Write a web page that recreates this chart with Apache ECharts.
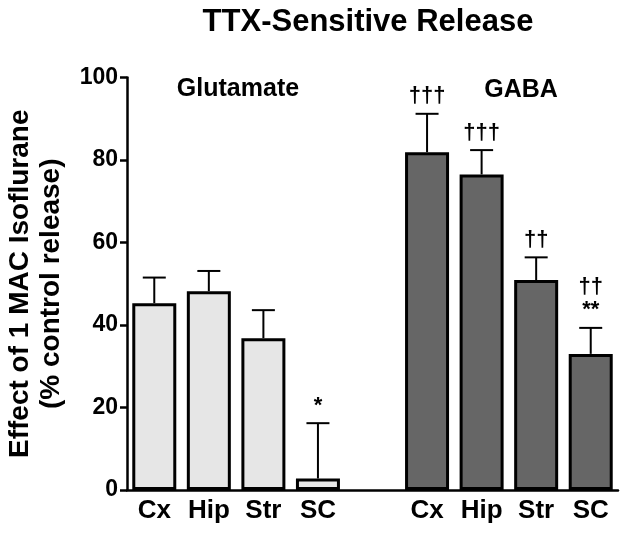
<!DOCTYPE html>
<html>
<head>
<meta charset="utf-8">
<script src="https://cdn.jsdelivr.net/npm/echarts@6/dist/echarts.min.js"></script>
<style>
  html, body { margin: 0; padding: 0; background: #fff; }
  #chart { width: 624px; height: 533px; }
</style>
</head>
<body>
<div id="chart"></div>
<script>
// categories: 4 glutamate regions, one empty gap slot, 4 GABA regions
const categories = ['Cx', 'Hip', 'Str', 'SC', '', 'Cx', 'Hip', 'Str', 'SC']
const glutamateMeans = [45.3, 48.2, 36.8, 2.8]
const glutamateErrTops = [51.5, 53.1, 43.6, 16.2]
const gabaMeans = [81.9, 76.5, 50.9, 33.0]
const gabaErrTops = [91.2, 82.4, 56.4, 39.3]
const glutamateMarks = ['', '', '', '*']
const gabaMarks = ['†††', '†††', '††', '††\n**']
const yTicks = [0, 20, 40, 60, 80, 100]

const FONT = '"Liberation Sans", Arial, sans-serif'
const LIGHT = '#e6e6e6'
const DARK = '#666666'

const chart = echarts.init(document.getElementById('chart'), null, { renderer: 'canvas' })

// bars, one per slot
const barData = []
const errData = []
glutamateMeans.forEach((v, i) => {
  barData.push({ value: v, itemStyle: { color: LIGHT } })
  errData.push([i, v, glutamateErrTops[i], glutamateMarks[i]])
})
barData.push('-')
gabaMeans.forEach((v, i) => {
  barData.push({ value: v, itemStyle: { color: DARK } })
  errData.push([i + 5, v, gabaErrTops[i], gabaMarks[i]])
})

const option = {
  animation: false,
  textStyle: { fontFamily: FONT },
  title: {
    text: 'TTX-Sensitive Release',
    left: 363,
    textAlign: 'center',
    top: 2,
    textStyle: { fontSize: 31, fontWeight: 'bold', color: '#000', fontFamily: FONT }
  },
  grid: { left: 127, right: 6, top: 77.5, bottom: 43, outerBoundsMode: 'none', containLabel: false },
  xAxis: {
    type: 'category',
    data: categories,
    boundaryGap: true,
    axisLine: { lineStyle: { color: '#000', width: 2.5 } },
    axisTick: { show: false },
    axisLabel: {
      color: '#000',
      fontSize: 26,
      fontWeight: 'bold',
      fontFamily: FONT,
      margin: 8,
      interval: 0
    }
  },
  yAxis: {
    type: 'value',
    min: 0,
    max: 100,
    interval: 20,
    name: 'Effect of 1 MAC Isoflurane\n(% control release)',
    nameLocation: 'middle',
    nameGap: 60,
    nameTextStyle: {
      color: '#000',
      fontSize: 28,
      fontWeight: 'bold',
      fontFamily: FONT,
      lineHeight: 31
    },
    axisLine: { show: true, lineStyle: { color: '#000', width: 2.5 } },
    axisTick: { show: true, length: 7, lineStyle: { color: '#000', width: 2.5 } },
    splitLine: { show: false },
    axisLabel: {
      color: '#000',
      fontSize: 23,
      fontWeight: 'bold',
      fontFamily: FONT,
      margin: 9,
      formatter: v => (yTicks.indexOf(v) >= 0 ? String(v) : '')
    }
  },
  graphic: [
    {
      type: 'text',
      x: 238,
      y: 89,
      style: { text: 'Glutamate', font: 'bold 25px ' + FONT, fill: '#000', align: 'center', verticalAlign: 'middle' }
    },
    {
      type: 'text',
      x: 521,
      y: 90,
      style: { text: 'GABA', font: 'bold 25px ' + FONT, fill: '#000', align: 'center', verticalAlign: 'middle' }
    }
  ],
  series: [
    {
      type: 'bar',
      data: barData,
      barWidth: 44,
      itemStyle: { borderColor: '#000', borderWidth: 3 },
      z: 2
    },
    {
      type: 'custom',
      data: errData,
      z: 3,
      renderItem (params, api) {
        const low = api.coord([api.value(0), api.value(1)])
        const high = api.coord([api.value(0), api.value(2)])
        const mark = errData[params.dataIndex][3]
        const x = low[0]
        const children = [
          {
            type: 'line',
            shape: { x1: x, y1: low[1], x2: x, y2: high[1] },
            style: { stroke: '#000', lineWidth: 2 }
          },
          {
            type: 'line',
            shape: { x1: x - 11.5, y1: high[1], x2: x + 11.5, y2: high[1] },
            style: { stroke: '#000', lineWidth: 2 }
          }
        ]
        if (mark) {
          children.push({
            type: 'text',
            x: x,
            y: high[1] - 6,
            style: {
              text: mark,
              font: 'bold 22px ' + FONT,
              fill: '#000',
              align: 'center',
              verticalAlign: 'bottom',
              lineHeight: 23
            }
          })
        }
        return { type: 'group', children }
      }
    }
  ]
}

chart.setOption(option)
</script>
</body>
</html>
